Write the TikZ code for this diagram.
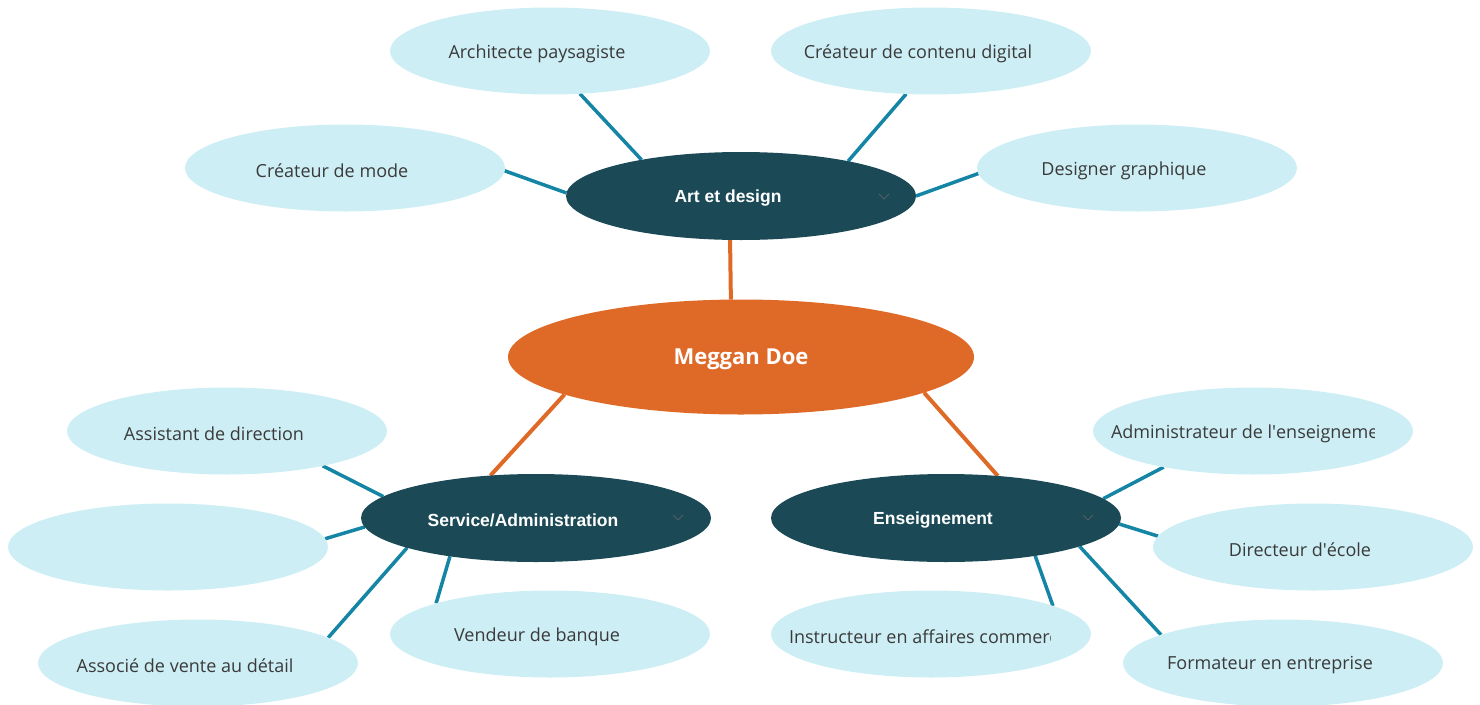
\documentclass[tikz,border=0pt]{standalone}
\usepackage{fontspec}
\setmainfont{Open Sans}
\newfontfamily\arialfont{Liberation Sans}
\usetikzlibrary{shapes.geometric,backgrounds,calc}
\definecolor{leaf}{HTML}{CDEEF4}
\definecolor{branch}{HTML}{1B4A56}
\definecolor{rootc}{HTML}{DF6A28}
\definecolor{linkc}{HTML}{1585A5}
\definecolor{txt}{HTML}{3A3A3A}
\definecolor{chevc}{HTML}{4F5F63}
\newcommand\lowered[1]{\raisebox{-2.5pt}[\height][\depth]{#1}}
\newcommand\lbl[1]{\makebox[0pt]{\lowered{#1}\hspace{26pt}}}
\begin{document}
\begin{tikzpicture}[x=1pt,y=-1pt,
  leafnode/.style={ellipse, fill=leaf, minimum width=320pt, minimum height=87pt, inner sep=0pt, outer sep=0pt, text=txt, font=\fontsize{18}{20}\selectfont},
  leaftext/.style={inner sep=0pt, outer sep=0pt, text=txt, font=\fontsize{18}{20}\selectfont},
  branchnode/.style={ellipse, fill=branch, minimum width=350pt, minimum height=88pt, inner sep=0pt, outer sep=0pt, text=white, font=\arialfont\bfseries\fontsize{17.5}{20}\selectfont},
  rootnode/.style={ellipse, fill=rootc, minimum width=466pt, minimum height=115pt, inner sep=0pt, outer sep=0pt, text=white, font=\bfseries\fontsize{22}{24}\selectfont},
  link/.style={draw=linkc, line width=3.5pt},
  rootlink/.style={draw=rootc, line width=4pt},
  chevron/.style={draw=chevc, line width=1pt}]
\useasboundingbox (0,0) rectangle (1480,704);

% root and branches
\node[rootnode] (meg) at (741,357) {\lowered{Meggan Doe}};
\node[branchnode] (art) at (741,196) {\lbl{Art et design}};
\node[branchnode] (serv) at (536,518) {\lbl{Service/Administration}};
\node[branchnode] (ens) at (946,518) {\lbl{Enseignement}};

% chevrons
\draw[chevron] ($(art.center)+(138,-2)$) -- ++(5,5) -- ++(5,-5);
\draw[chevron] ($(serv.center)+(137,-3)$) -- ++(5,5) -- ++(5,-5);
\draw[chevron] ($(ens.center)+(137,-3)$) -- ++(5,5) -- ++(5,-5);

% leaves of Art et design
\node[leafnode] (arch) at (550,51) {\lbl{Architecte paysagiste}};
\node[leafnode] (cont) at (931,51) {\lbl{Créateur de contenu digital}};
\node[leafnode] (mode) at (345,168) {\lbl{Créateur de mode}};
\node[leafnode] (graph) at (1137,168) {\lbl{Designer graphique}};

% leaves of Service/Administration
\node[leafnode] (assist) at (227,431) {\lbl{Assistant de direction}};
\node[leafnode] (empty) at (168,547) {};
\node[leafnode] (assoc) at (198,663) {\lbl{Associé de vente au détail}};
\node[leafnode] (vend) at (550,634) {\lbl{Vendeur de banque}};

% leaves of Enseignement
\node[leafnode] (admin) at (1253,431) {};
\begin{scope}
  \clip (1100,405) rectangle (1374,460);
  \node[leaftext, anchor=west] (admint) at (1111,433.5) {Administrateur de l\textquotesingle enseigneme};
\end{scope}
\node[leafnode] (dir) at (1313,547) {\lbl{Directeur d\textquotesingle école}};
\node[leafnode] (instr) at (931,634) {};
\begin{scope}
  \clip (780,610) rectangle (1050,660);
  \node[leaftext, anchor=west] (instrt) at (789,636.5) {Instructeur en affaires commerc};
\end{scope}
\node[leafnode] (form) at (1283,663) {\lbl{Formateur en entreprise}};

% connectors
\begin{scope}[on background layer]
  \draw[rootlink] (art.-104) -- (meg.100.9);
  \draw[rootlink] (meg.-168.6) -- (serv.137);
  \draw[rootlink] (meg.-11.2) -- (ens.39.9);

  \draw[link] (art.160.7) -- (arch.-55.7);
  \draw[link] (art.18.8) -- (cont.-120.6);
  \draw[link] (art.179.7) -- (mode.-1.8);
  \draw[link] (art.0) -- (graph.-178);

  \draw[link] (serv.172.7) -- (assist.-20.6);
  \draw[link] (serv.-177.4) -- (empty.3.2);
  \draw[link] (serv.-167.4) -- (assoc.11.4);
  \draw[link] (serv.-156.1) -- (vend.165.3);

  \draw[link] (ens.7.3) -- (admin.-158.8);
  \draw[link] (ens.-2.3) -- (dir.176.4);
  \draw[link] (ens.-23.7) -- (instr.13.4);
  \draw[link] (ens.-12) -- (form.167.5);
\end{scope}
\end{tikzpicture}
\end{document}
